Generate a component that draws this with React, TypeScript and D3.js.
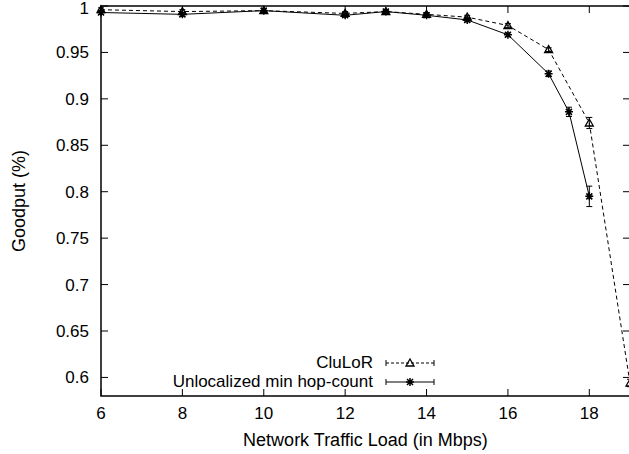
import React from "react";
import * as d3 from "d3";

const xTicks = [6, 8, 10, 12, 14, 16, 18];
const yTicks = [0.6, 0.65, 0.7, 0.75, 0.8, 0.85, 0.9, 0.95, 1];
const yTickLabels = ["0.6", "0.65", "0.7", "0.75", "0.8", "0.85", "0.9", "0.95", "1"];

const cluX = [6, 8, 10, 12, 13, 14, 15, 16, 17, 18, 19];
const cluY = [0.996, 0.994, 0.995, 0.992, 0.994, 0.991, 0.988, 0.979, 0.953, 0.874, 0.594];
const cluErr = [0.002, 0.002, 0.002, 0.002, 0.001, 0.002, 0.002, 0.002, 0.002, 0.006, 0.004];

const unlX = [6, 8, 10, 12, 13, 14, 15, 16, 17, 17.5, 18];
const unlY = [0.993, 0.991, 0.995, 0.99, 0.994, 0.99, 0.985, 0.969, 0.927, 0.886, 0.795];
const unlErr = [0.002, 0.002, 0.002, 0.002, 0.002, 0.002, 0.002, 0.002, 0.003, 0.005, 0.011];

const seriesNames = ["CluLoR", "Unlocalized min hop-count"];
const xTitle = "Network Traffic Load (in Mbps)";
const yTitle = "Goodput (%)";

const W = 629, H = 454;
const L = 101, R = 630, T = 6, B = 396;
const FONT = "'Liberation Sans', Arial, Helvetica, sans-serif";
const FS = 17;

export default function App() {
  const x = d3.scaleLinear().domain([6, 19]).range([L, R]);
  const y = d3.scaleLinear().domain([0.58, 1.0]).range([B, T]);
  const line = d3.line<[number, number]>().x(d => x(d[0])).y(d => y(d[1]));
  const clu: [number, number][] = cluX.map((v, i) => [v, cluY[i]]);
  const unl: [number, number][] = unlX.map((v, i) => [v, unlY[i]]);
  const tk = 7;

  const tri = (cx: number, cy: number, k: string) => (
    <path key={k} d={`M${cx},${cy - 4}L${cx + 4},${cy + 3}L${cx - 4},${cy + 3}Z`} fill="none" stroke="#000" strokeWidth={1.3} />
  );
  const star = (cx: number, cy: number, k: string) => (
    <path key={k} d={`M${cx - 4},${cy}H${cx + 4}M${cx},${cy - 4}V${cy + 4}M${cx - 3},${cy - 3}L${cx + 3},${cy + 3}M${cx - 3},${cy + 3}L${cx + 3},${cy - 3}`} stroke="#000" strokeWidth={1.5} />
  );
  const errBar = (xv: number, yv: number, e: number, k: string) => {
    const cx = x(xv), y1 = y(yv + e), y2 = y(yv - e);
    return (
      <path key={k} d={`M${cx},${y1}V${y2}M${cx - 3},${y1}H${cx + 3}M${cx - 3},${y2}H${cx + 3}`} stroke="#000" strokeWidth={1} fill="none" />
    );
  };

  const legX1 = 386, legX2 = 434, legMid = 410;
  const legY = [363, 382];

  return (
    <svg width={W} height={H} style={{ position: "absolute", left: 0, top: 0, background: "#fff" }} fontFamily={FONT}>
      <rect x={0} y={0} width={W} height={H} fill="#fff" />
      <path d={`M${L},${T}H${R}V${B}H${L}Z`} fill="none" stroke="#000" strokeWidth={1.5} />
      {xTicks.map(t => (
        <g key={"xt" + t}>
          <line x1={x(t)} x2={x(t)} y1={B} y2={B - tk} stroke="#000" />
          <line x1={x(t)} x2={x(t)} y1={T} y2={T + tk} stroke="#000" />
          <text x={x(t)} y={419} fontSize={FS} textAnchor="middle">{t}</text>
        </g>
      ))}
      {yTicks.map((t, i) => (
        <g key={"yt" + t}>
          <line x1={L} x2={L + tk} y1={y(t)} y2={y(t)} stroke="#000" />
          <line x1={R} x2={R - tk} y1={y(t)} y2={y(t)} stroke="#000" />
          <text x={89} y={t === 1 ? y(t) + 7.5 : y(t) + 6} fontSize={FS} textAnchor="end">{yTickLabels[i]}</text>
        </g>
      ))}
      <text x={(L + R) / 2} y={446} fontSize={18} textAnchor="middle">{xTitle}</text>
      <text transform={`translate(25,${(T + B) / 2}) rotate(-90)`} fontSize={18} textAnchor="middle">{yTitle}</text>

      <path d={line(clu) || ""} fill="none" stroke="#000" strokeWidth={1} strokeDasharray="4,3" />
      <path d={line(unl) || ""} fill="none" stroke="#000" strokeWidth={1} />
      {cluX.map((v, i) => errBar(v, cluY[i], cluErr[i], "ce" + i))}
      {unlX.map((v, i) => errBar(v, unlY[i], unlErr[i], "ue" + i))}
      {cluX.map((v, i) => tri(x(v), y(cluY[i]), "cm" + i))}
      {unlX.map((v, i) => star(x(v), y(unlY[i]), "um" + i))}

      {seriesNames.map((n, i) => (
        <g key={"lg" + i}>
          <text x={373} y={legY[i] + 5} fontSize={17} textAnchor="end">{n}</text>
          <line x1={legX1} x2={legX2} y1={legY[i]} y2={legY[i]} stroke="#000" strokeDasharray={i === 0 ? "3,2" : undefined} />
          <line x1={legX1} x2={legX1} y1={legY[i] - 3} y2={legY[i] + 3} stroke="#000" />
          <line x1={legX2} x2={legX2} y1={legY[i] - 3} y2={legY[i] + 3} stroke="#000" />
          {i === 0 ? tri(legMid, legY[i], "lt") : star(legMid, legY[i], "ls")}
        </g>
      ))}
    </svg>
  );
}
